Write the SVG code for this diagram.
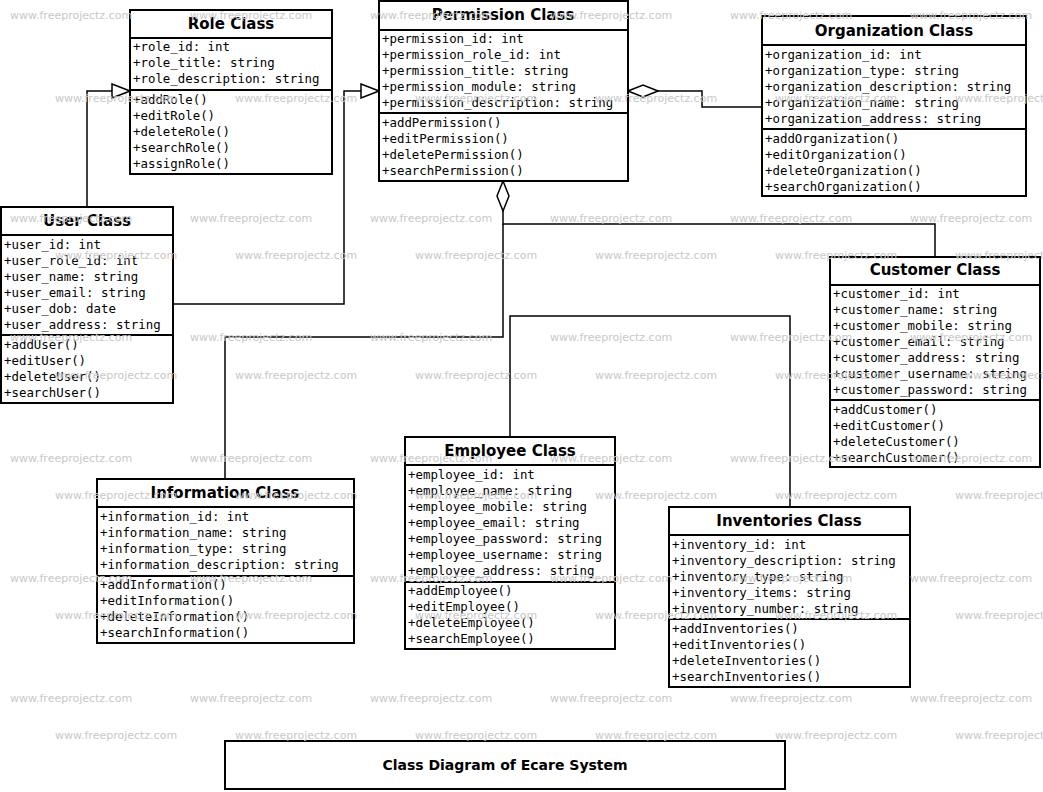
<svg xmlns="http://www.w3.org/2000/svg" width="1043" height="792" viewBox="0 0 1043 792">
<style>
.box{fill:#fff;stroke:#000;stroke-width:2}
.ln{stroke:#000;stroke-width:2;fill:none}
.t{font-family:"DejaVu Sans",sans-serif;font-weight:bold;font-size:15px;text-anchor:middle}
.m{font-family:"DejaVu Sans Mono",monospace;font-size:12.4px}
.w{font-family:"DejaVu Sans",sans-serif;font-size:11px;fill:#c8c8c8}
.c{stroke:#000;stroke-width:1.5;fill:none}
</style>
<defs>
<marker id="tri" markerWidth="20" markerHeight="16" refX="19" refY="8" orient="auto" markerUnits="userSpaceOnUse"><path d="M1,1 L19,8 L1,15 Z" fill="#fff" stroke="#000" stroke-width="1.5"/></marker>
<marker id="dia" markerWidth="32" markerHeight="14" refX="31" refY="7" orient="auto" markerUnits="userSpaceOnUse"><path d="M1,7 L16,1 L31,7 L16,13 Z" fill="#fff" stroke="#000" stroke-width="1.5"/></marker>
</defs>
<rect width="1043" height="792" fill="#fff"/>
<g id="connectors">
<path class="c" d="M87,207 V91 H130" marker-end="url(#tri)"/>
<path class="c" d="M173,304 H344 V91 H379" marker-end="url(#tri)"/>
<path class="c" d="M762,107 H702 V91 H628" marker-end="url(#dia)"/>
<path class="c" d="M935,257 V224 H503 V181" marker-end="url(#dia)"/>
<path class="c" d="M503,224 V337 H225 V479"/>
<path class="c" d="M510,437 V316 H790 V507"/>
</g>
<g id="role"><rect class="box" x="130" y="10" width="202" height="164"/><text class="t" x="231" y="29">Role Class</text><path class="ln" d="M130,38 H332 M130,90 H332"/>
<text class="m" x="133" y="51">+role_id: int</text><text class="m" x="133" y="67">+role_title: string</text><text class="m" x="133" y="83">+role_description: string</text>
<text class="m" x="133" y="104">+addRole()</text><text class="m" x="133" y="120">+editRole()</text><text class="m" x="133" y="136">+deleteRole()</text><text class="m" x="133" y="152">+searchRole()</text><text class="m" x="133" y="168">+assignRole()</text></g>
<g id="permission"><rect class="box" x="379" y="1" width="249" height="180"/><text class="t" x="503" y="20">Permission Class</text><path class="ln" d="M379,30 H628 M379,113 H628"/>
<text class="m" x="382" y="43">+permission_id: int</text><text class="m" x="382" y="59">+permission_role_id: int</text><text class="m" x="382" y="75">+permission_title: string</text><text class="m" x="382" y="91">+permission_module: string</text><text class="m" x="382" y="107">+permission_description: string</text>
<text class="m" x="382" y="127">+addPermission()</text><text class="m" x="382" y="143">+editPermission()</text><text class="m" x="382" y="159">+deletePermission()</text><text class="m" x="382" y="175">+searchPermission()</text></g>
<g id="organization"><rect class="box" x="762" y="16" width="264" height="180"/><text class="t" x="894" y="36">Organization Class</text><path class="ln" d="M762,45 H1026 M762,129 H1026"/>
<text class="m" x="765" y="59">+organization_id: int</text><text class="m" x="765" y="75">+organization_type: string</text><text class="m" x="765" y="91">+organization_description: string</text><text class="m" x="765" y="107">+organization_name: string</text><text class="m" x="765" y="123">+organization_address: string</text>
<text class="m" x="765" y="143">+addOrganization()</text><text class="m" x="765" y="159">+editOrganization()</text><text class="m" x="765" y="175">+deleteOrganization()</text><text class="m" x="765" y="191">+searchOrganization()</text></g>
<g id="user"><rect class="box" x="1" y="207" width="172" height="196"/><text class="t" x="87" y="226">User Class</text><path class="ln" d="M1,235 H173 M1,335 H173"/>
<text class="m" x="4" y="249">+user_id: int</text><text class="m" x="4" y="265">+user_role_id: int</text><text class="m" x="4" y="281">+user_name: string</text><text class="m" x="4" y="297">+user_email: string</text><text class="m" x="4" y="313">+user_dob: date</text><text class="m" x="4" y="329">+user_address: string</text>
<text class="m" x="4" y="349">+addUser()</text><text class="m" x="4" y="365">+editUser()</text><text class="m" x="4" y="381">+deleteUser()</text><text class="m" x="4" y="397">+searchUser()</text></g>
<g id="customer"><rect class="box" x="830" y="257" width="210" height="210"/><text class="t" x="935" y="275">Customer Class</text><path class="ln" d="M830,285 H1040 M830,400 H1040"/>
<text class="m" x="833" y="298">+customer_id: int</text><text class="m" x="833" y="314">+customer_name: string</text><text class="m" x="833" y="330">+customer_mobile: string</text><text class="m" x="833" y="346">+customer_email: string</text><text class="m" x="833" y="362">+customer_address: string</text><text class="m" x="833" y="378">+customer_username: string</text><text class="m" x="833" y="394">+customer_password: string</text>
<text class="m" x="833" y="414">+addCustomer()</text><text class="m" x="833" y="430">+editCustomer()</text><text class="m" x="833" y="446">+deleteCustomer()</text><text class="m" x="833" y="462">+searchCustomer()</text></g>
<g id="employee"><rect class="box" x="405" y="437" width="210" height="212"/><text class="t" x="510" y="456">Employee Class</text><path class="ln" d="M405,465 H615 M405,582 H615"/>
<text class="m" x="408" y="479">+employee_id: int</text><text class="m" x="408" y="495">+employee_name: string</text><text class="m" x="408" y="511">+employee_mobile: string</text><text class="m" x="408" y="527">+employee_email: string</text><text class="m" x="408" y="543">+employee_password: string</text><text class="m" x="408" y="559">+employee_username: string</text><text class="m" x="408" y="575">+employee_address: string</text>
<text class="m" x="408" y="595">+addEmployee()</text><text class="m" x="408" y="611">+editEmployee()</text><text class="m" x="408" y="627">+deleteEmployee()</text><text class="m" x="408" y="643">+searchEmployee()</text></g>
<g id="information"><rect class="box" x="97" y="479" width="257" height="164"/><text class="t" x="225" y="498">Information Class</text><path class="ln" d="M97,507 H354 M97,576 H354"/>
<text class="m" x="100" y="521">+information_id: int</text><text class="m" x="100" y="537">+information_name: string</text><text class="m" x="100" y="553">+information_type: string</text><text class="m" x="100" y="569">+information_description: string</text>
<text class="m" x="100" y="589">+addInformation()</text><text class="m" x="100" y="605">+editInformation()</text><text class="m" x="100" y="621">+deleteInformation()</text><text class="m" x="100" y="637">+searchInformation()</text></g>
<g id="inventories"><rect class="box" x="669" y="507" width="241" height="180"/><text class="t" x="789" y="526">Inventories Class</text><path class="ln" d="M669,535 H910 M669,619 H910"/>
<text class="m" x="672" y="549">+inventory_id: int</text><text class="m" x="672" y="565">+inventory_description: string</text><text class="m" x="672" y="581">+inventory_type: string</text><text class="m" x="672" y="597">+inventory_items: string</text><text class="m" x="672" y="613">+inventory_number: string</text>
<text class="m" x="672" y="633">+addInventories()</text><text class="m" x="672" y="649">+editInventories()</text><text class="m" x="672" y="665">+deleteInventories()</text><text class="m" x="672" y="681">+searchInventories()</text></g>
<g id="title"><rect class="box" x="225" y="741" width="560" height="48"/><text x="505" y="770" style="font-family:'DejaVu Sans',sans-serif;font-weight:bold;font-size:14px;text-anchor:middle">Class Diagram of Ecare System</text></g>
<g id="watermarks">
<text class="w" x="10" y="19">www.freeprojectz.com</text><text class="w" x="190" y="19">www.freeprojectz.com</text><text class="w" x="370" y="19">www.freeprojectz.com</text><text class="w" x="550" y="19">www.freeprojectz.com</text><text class="w" x="730" y="19">www.freeprojectz.com</text><text class="w" x="910" y="19">www.freeprojectz.com</text>
<text class="w" x="55" y="102">www.freeprojectz.com</text><text class="w" x="235" y="102">www.freeprojectz.com</text><text class="w" x="415" y="102">www.freeprojectz.com</text><text class="w" x="595" y="102">www.freeprojectz.com</text><text class="w" x="775" y="102">www.freeprojectz.com</text><text class="w" x="955" y="102">www.freeprojectz.com</text>
<text class="w" x="10" y="222">www.freeprojectz.com</text><text class="w" x="190" y="222">www.freeprojectz.com</text><text class="w" x="370" y="222">www.freeprojectz.com</text><text class="w" x="550" y="222">www.freeprojectz.com</text><text class="w" x="730" y="222">www.freeprojectz.com</text><text class="w" x="910" y="222">www.freeprojectz.com</text>
<text class="w" x="55" y="259">www.freeprojectz.com</text><text class="w" x="235" y="259">www.freeprojectz.com</text><text class="w" x="415" y="259">www.freeprojectz.com</text><text class="w" x="595" y="259">www.freeprojectz.com</text><text class="w" x="775" y="259">www.freeprojectz.com</text><text class="w" x="955" y="259">www.freeprojectz.com</text>
<text class="w" x="10" y="341">www.freeprojectz.com</text><text class="w" x="190" y="341">www.freeprojectz.com</text><text class="w" x="370" y="341">www.freeprojectz.com</text><text class="w" x="550" y="341">www.freeprojectz.com</text><text class="w" x="730" y="341">www.freeprojectz.com</text><text class="w" x="910" y="341">www.freeprojectz.com</text>
<text class="w" x="55" y="379">www.freeprojectz.com</text><text class="w" x="235" y="379">www.freeprojectz.com</text><text class="w" x="415" y="379">www.freeprojectz.com</text><text class="w" x="595" y="379">www.freeprojectz.com</text><text class="w" x="775" y="379">www.freeprojectz.com</text><text class="w" x="955" y="379">www.freeprojectz.com</text>
<text class="w" x="10" y="462">www.freeprojectz.com</text><text class="w" x="190" y="462">www.freeprojectz.com</text><text class="w" x="370" y="462">www.freeprojectz.com</text><text class="w" x="550" y="462">www.freeprojectz.com</text><text class="w" x="730" y="462">www.freeprojectz.com</text><text class="w" x="910" y="462">www.freeprojectz.com</text>
<text class="w" x="55" y="499">www.freeprojectz.com</text><text class="w" x="235" y="499">www.freeprojectz.com</text><text class="w" x="415" y="499">www.freeprojectz.com</text><text class="w" x="595" y="499">www.freeprojectz.com</text><text class="w" x="775" y="499">www.freeprojectz.com</text><text class="w" x="955" y="499">www.freeprojectz.com</text>
<text class="w" x="10" y="582">www.freeprojectz.com</text><text class="w" x="190" y="582">www.freeprojectz.com</text><text class="w" x="370" y="582">www.freeprojectz.com</text><text class="w" x="550" y="582">www.freeprojectz.com</text><text class="w" x="730" y="582">www.freeprojectz.com</text><text class="w" x="910" y="582">www.freeprojectz.com</text>
<text class="w" x="55" y="619">www.freeprojectz.com</text><text class="w" x="235" y="619">www.freeprojectz.com</text><text class="w" x="415" y="619">www.freeprojectz.com</text><text class="w" x="595" y="619">www.freeprojectz.com</text><text class="w" x="775" y="619">www.freeprojectz.com</text><text class="w" x="955" y="619">www.freeprojectz.com</text>
<text class="w" x="10" y="702">www.freeprojectz.com</text><text class="w" x="190" y="702">www.freeprojectz.com</text><text class="w" x="370" y="702">www.freeprojectz.com</text><text class="w" x="550" y="702">www.freeprojectz.com</text><text class="w" x="730" y="702">www.freeprojectz.com</text><text class="w" x="910" y="702">www.freeprojectz.com</text>
<text class="w" x="55" y="739">www.freeprojectz.com</text><text class="w" x="235" y="739">www.freeprojectz.com</text><text class="w" x="415" y="739">www.freeprojectz.com</text><text class="w" x="595" y="739">www.freeprojectz.com</text><text class="w" x="775" y="739">www.freeprojectz.com</text><text class="w" x="955" y="739">www.freeprojectz.com</text>
</g>
</svg>
